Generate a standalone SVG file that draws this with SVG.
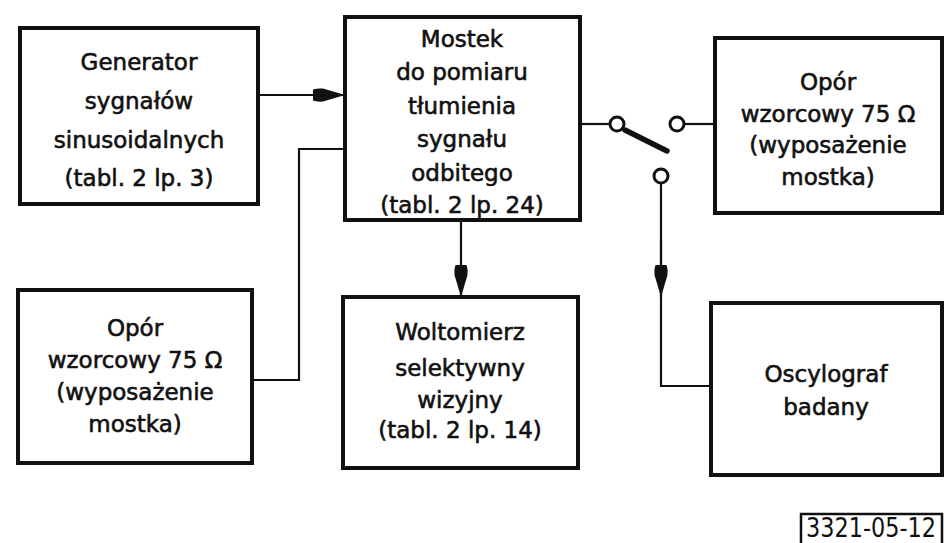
<svg xmlns="http://www.w3.org/2000/svg" width="944" height="543" viewBox="0 0 944 543">
<style>
.box{fill:#fff;stroke:#111;stroke-width:4}
.lbl{font-family:"DejaVu Sans","Noto Sans",sans-serif;font-size:23px;fill:#111;stroke:#111;stroke-width:0.6;text-anchor:middle}
.wire{fill:none;stroke:#111;stroke-width:2.2}
.term{fill:#fff;stroke:#111;stroke-width:3}
.code{font-family:"Liberation Sans Narrow","DejaVu Sans Condensed",sans-serif;font-size:26px;fill:#111}
</style>
<defs>
<marker id="ahl" viewBox="0 0 32 14" refX="32" refY="7" markerWidth="32" markerHeight="14" markerUnits="userSpaceOnUse" orient="auto">
<path d="M0,1.5 Q4,0 10,0.5 L32,7 L10,13.5 Q4,14 0,12.5 Z" fill="#111"/>
</marker>
</defs>
<rect width="944" height="543" fill="#fff"/>
<g id="connectors">
<line class="wire" x1="258" y1="95" x2="345" y2="95" marker-end="url(#ahl)"/>
<polyline class="wire" points="252,380 299,380 299,149 345,149"/>
<line class="wire" x1="461" y1="220" x2="461" y2="297" marker-end="url(#ahl)"/>
<line class="wire" x1="580" y1="124" x2="610" y2="124"/>
<line x1="625" y1="130" x2="667" y2="151" stroke="#111" stroke-width="5.5" stroke-linecap="round"/>
<line class="wire" x1="684" y1="124" x2="715" y2="124"/>
<polyline class="wire" points="661,183 661,386 711,386"/>
<line class="wire" x1="661" y1="240" x2="661" y2="297" marker-end="url(#ahl)"/>
<circle class="term" cx="617" cy="124" r="7"/>
<circle class="term" cx="677" cy="124" r="7"/>
<circle class="term" cx="661" cy="176" r="7"/>
</g>
<g id="generator">
<rect class="box" x="20" y="28" width="238" height="176"/>
<text class="lbl" x="139" y="70">Generator</text>
<text class="lbl" x="139" y="109">sygnałów</text>
<text class="lbl" x="139" y="148">sinusoidalnych</text>
<text class="lbl" x="139" y="186">(tabl. 2 lp. 3)</text>
</g>
<g id="mostek">
<rect class="box" x="345" y="17" width="235" height="203"/>
<text class="lbl" x="462" y="47">Mostek</text>
<text class="lbl" x="462" y="80">do pomiaru</text>
<text class="lbl" x="462" y="114">tłumienia</text>
<text class="lbl" x="462" y="147">sygnału</text>
<text class="lbl" x="462" y="181">odbitego</text>
<text class="lbl" x="462" y="213">(tabl. 2 lp. 24)</text>
</g>
<g id="opor-right">
<rect class="box" x="715" y="38" width="227" height="175"/>
<text class="lbl" x="828" y="90">Opór</text>
<text class="lbl" x="828" y="122">wzorcowy 75 Ω</text>
<text class="lbl" x="828" y="153">(wyposażenie</text>
<text class="lbl" x="828" y="185">mostka)</text>
</g>
<g id="opor-left">
<rect class="box" x="18" y="290" width="234" height="173"/>
<text class="lbl" x="135" y="336">Opór</text>
<text class="lbl" x="135" y="368">wzorcowy 75 Ω</text>
<text class="lbl" x="135" y="400">(wyposażenie</text>
<text class="lbl" x="135" y="432">mostka)</text>
</g>
<g id="woltomierz">
<rect class="box" x="343" y="297" width="235" height="171"/>
<text class="lbl" x="460" y="340">Woltomierz</text>
<text class="lbl" x="460" y="376">selektywny</text>
<text class="lbl" x="460" y="408">wizyjny</text>
<text class="lbl" x="460" y="438">(tabl. 2 lp. 14)</text>
</g>
<g id="oscylograf">
<rect class="box" x="711" y="303" width="231" height="172"/>
<text class="lbl" x="826" y="382">Oscylograf</text>
<text class="lbl" x="826" y="415">badany</text>
</g>
<g id="code">
<rect x="801" y="514" width="141" height="32" fill="#fff" stroke="#111" stroke-width="2.5"/>
<text class="code" x="806" y="537" textLength="130" lengthAdjust="spacingAndGlyphs">3321-05-12</text>
</g>
</svg>
